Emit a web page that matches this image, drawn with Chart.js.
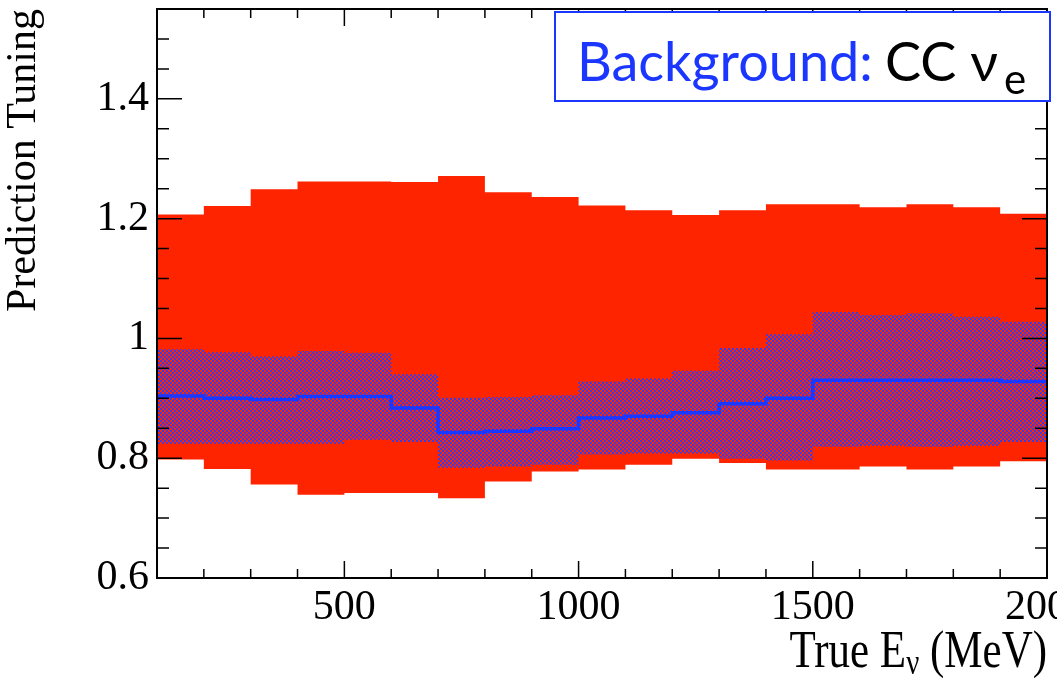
<!DOCTYPE html>
<html>
<head>
<meta charset="utf-8">
<script src="https://cdn.jsdelivr.net/npm/chart.js@4"></script>
<style>
  body { margin: 0; background: #fff; }
  #wrap { width: 1057px; height: 686px; position: relative; }
</style>
</head>
<body>
<div id="wrap"><canvas id="tuning_chart"></canvas></div>
<script>
// bin lower edges (MeV), last entry is the upper edge of the last bin
var binEdges = [100, 200, 300, 400, 500, 600, 700, 800, 900, 1000,
                1100, 1200, 1300, 1400, 1500, 1600, 1700, 1800, 1900, 2000];

var redUpper = [1.207, 1.221, 1.249, 1.262, 1.262, 1.261, 1.271, 1.244, 1.236, 1.222,
                1.214, 1.206, 1.214, 1.224, 1.224, 1.219, 1.224, 1.219, 1.208];
var redLower = [0.798, 0.782, 0.756, 0.739, 0.742, 0.742, 0.733, 0.761, 0.778, 0.781,
                0.789, 0.799, 0.792, 0.781, 0.781, 0.786, 0.781, 0.786, 0.795];
var purpleUpper = [0.982, 0.977, 0.970, 0.979, 0.976, 0.940, 0.901, 0.902, 0.905, 0.928,
                   0.933, 0.946, 0.984, 1.007, 1.044, 1.039, 1.042, 1.036, 1.028];
var purpleLower = [0.824, 0.824, 0.824, 0.824, 0.831, 0.827, 0.784, 0.786, 0.789, 0.806,
                   0.808, 0.808, 0.799, 0.796, 0.819, 0.821, 0.819, 0.821, 0.827];
var central = [0.904, 0.900, 0.898, 0.903, 0.903, 0.884, 0.843, 0.845, 0.849, 0.867,
               0.870, 0.876, 0.891, 0.900, 0.930, 0.930, 0.930, 0.930, 0.928];

var xTickLabels = [500, 1000, 1500, 2000];
var yTickLabels = [0.6, 0.8, 1.0, 1.2, 1.4];

var RED = '#ff2400';
var BLUE = '#1a36ff';
var HATCH_BLUE = '#3c3ce6';

// histogram -> points on bin edges, last bin value repeated at the upper edge
function steps(vals) {
  return binEdges.map(function (e, i) {
    return { x: e, y: vals[Math.min(i, vals.length - 1)] };
  });
}

function hatch() {
  var c = document.createElement('canvas');
  c.width = 4; c.height = 4;
  var g = c.getContext('2d');
  g.fillStyle = RED; g.fillRect(0, 0, 4, 4);
  g.fillStyle = HATCH_BLUE; g.fillRect(0, 0, 2, 2); g.fillRect(2, 2, 2, 2);
  return g.createPattern(c, 'repeat');
}
var dots = hatch();

var serif = 'Liberation Serif, Times New Roman, serif';

var frame = {
  id: 'frame',
  afterDraw: function (chart) {
    var ctx = chart.ctx, a = chart.chartArea;
    var xs = chart.scales.x, ys = chart.scales.y;
    ctx.save();
    ctx.strokeStyle = '#000';
    ctx.lineWidth = 1.5;
    ctx.beginPath();
    // x ticks every 100, long ones every 500
    for (var v = 200; v < 2000; v += 100) {
      var px = xs.getPixelForValue(v);
      var len = (v % 500 === 0) ? 17 : 9;
      ctx.moveTo(px, a.bottom); ctx.lineTo(px, a.bottom - len);
      ctx.moveTo(px, a.top); ctx.lineTo(px, a.top + len);
    }
    // y ticks every 0.05, long ones every 0.2
    for (var k = 1; k <= 18; k++) {
      var py = ys.getPixelForValue(0.6 + k * 0.05);
      var l2 = (k % 4 === 0) ? 25 : 12;
      ctx.moveTo(a.left, py); ctx.lineTo(a.left + l2, py);
      ctx.moveTo(a.right, py); ctx.lineTo(a.right - l2, py);
    }
    ctx.stroke();
    ctx.lineWidth = 2;
    ctx.strokeRect(a.left, a.top, a.right - a.left, a.bottom - a.top);

    // axis titles
    ctx.fillStyle = '#000';
    ctx.textBaseline = 'alphabetic';
    ctx.save();
    ctx.translate(35, a.top);
    ctx.rotate(-Math.PI / 2);
    ctx.textAlign = 'right';
    ctx.font = '42px ' + serif;
    ctx.fillText('Prediction Tuning', 0, 0);
    ctx.restore();

    // x title, drawn a bit taller than wide like the original
    ctx.save();
    ctx.translate(0, 667);
    ctx.scale(1, 1.24);
    ctx.textAlign = 'left';
    var big = '43px ' + serif, small = '29px ' + serif;
    ctx.font = big;
    var w1 = ctx.measureText('True E').width;
    var w3 = ctx.measureText(' (MeV)').width;
    ctx.font = small;
    var w2 = ctx.measureText('\u03bd').width;
    var x0 = a.right - (w1 + w2 + w3);
    ctx.font = big; ctx.fillText('True E', x0, 0);
    ctx.font = small; ctx.fillText('\u03bd', x0 + w1, 6);
    ctx.font = big; ctx.fillText(' (MeV)', x0 + w1 + w2, 0);
    ctx.restore();

    // label box
    ctx.fillStyle = '#fff';
    ctx.fillRect(555, 12, 495, 89);
    ctx.strokeStyle = BLUE;
    ctx.lineWidth = 2;
    ctx.strokeRect(555, 12, 495, 89);
    var sans = 'Lato, Noto Sans, sans-serif';
    ctx.textAlign = 'left';
    ctx.font = '54px ' + sans;
    ctx.fillStyle = BLUE;
    ctx.fillText('Background:', 577, 81);
    ctx.fillStyle = '#000';
    ctx.fillText('CC \u03bd', 885, 81);
    ctx.font = '42px ' + sans;
    ctx.fillText('e', 1004, 94);
    ctx.restore();
  }
};

var ctx1 = document.getElementById('tuning_chart').getContext('2d');

var myChart = new Chart(ctx1, {
  type: 'line',
  data: {
    datasets: [
      { label: 'central', data: steps(central), borderColor: BLUE, borderWidth: 3.5,
        stepped: 'before', fill: false, order: 0 },
      { label: 'tuned up', data: steps(purpleUpper), borderWidth: 0, borderColor: 'rgba(0,0,0,0)',
        backgroundColor: dots, stepped: 'before', fill: '+1', order: 1 },
      { label: 'tuned down', data: steps(purpleLower), borderWidth: 0, borderColor: 'rgba(0,0,0,0)',
        stepped: 'before', fill: false, order: 2 },
      { label: 'syst up', data: steps(redUpper), borderWidth: 0, borderColor: 'rgba(0,0,0,0)',
        backgroundColor: RED, stepped: 'before', fill: '+1', order: 3 },
      { label: 'syst down', data: steps(redLower), borderWidth: 0, borderColor: 'rgba(0,0,0,0)',
        stepped: 'before', fill: false, order: 4 }
    ]
  },
  options: {
    responsive: true,
    maintainAspectRatio: false,
    animation: false,
    elements: { point: { radius: 0 } },
    layout: { padding: { top: 9, right: 10, left: 0, bottom: 0 } },
    plugins: { legend: { display: false }, tooltip: { enabled: false } },
    scales: {
      x: {
        type: 'linear', min: 100, max: 2000,
        grid: { display: false, drawTicks: false },
        border: { display: false },
        afterBuildTicks: function (s) { s.ticks = xTickLabels.map(function (v) { return { value: v }; }); },
        afterFit: function (s) { s.height = 108; s.paddingLeft = 0; s.paddingRight = 0; },
        ticks: { color: '#000', padding: 5, maxRotation: 0, autoSkip: false,
                 font: { family: serif, size: 42 },
                 callback: function (v) { return String(v); } }
      },
      y: {
        min: 0.6, max: 1.55,
        grid: { display: false, drawTicks: false },
        border: { display: false },
        afterBuildTicks: function (s) { s.ticks = yTickLabels.map(function (v) { return { value: v }; }); },
        afterFit: function (s) { s.width = 157; s.paddingTop = 0; s.paddingBottom = 0; },
        ticks: { color: '#000', padding: 8, autoSkip: false,
                 font: { family: serif, size: 42 },
                 callback: function (v) { return v === 1 ? '1' : Number(v).toFixed(1); } }
      }
    }
  },
  plugins: [frame]
});
</script>
</body>
</html>
